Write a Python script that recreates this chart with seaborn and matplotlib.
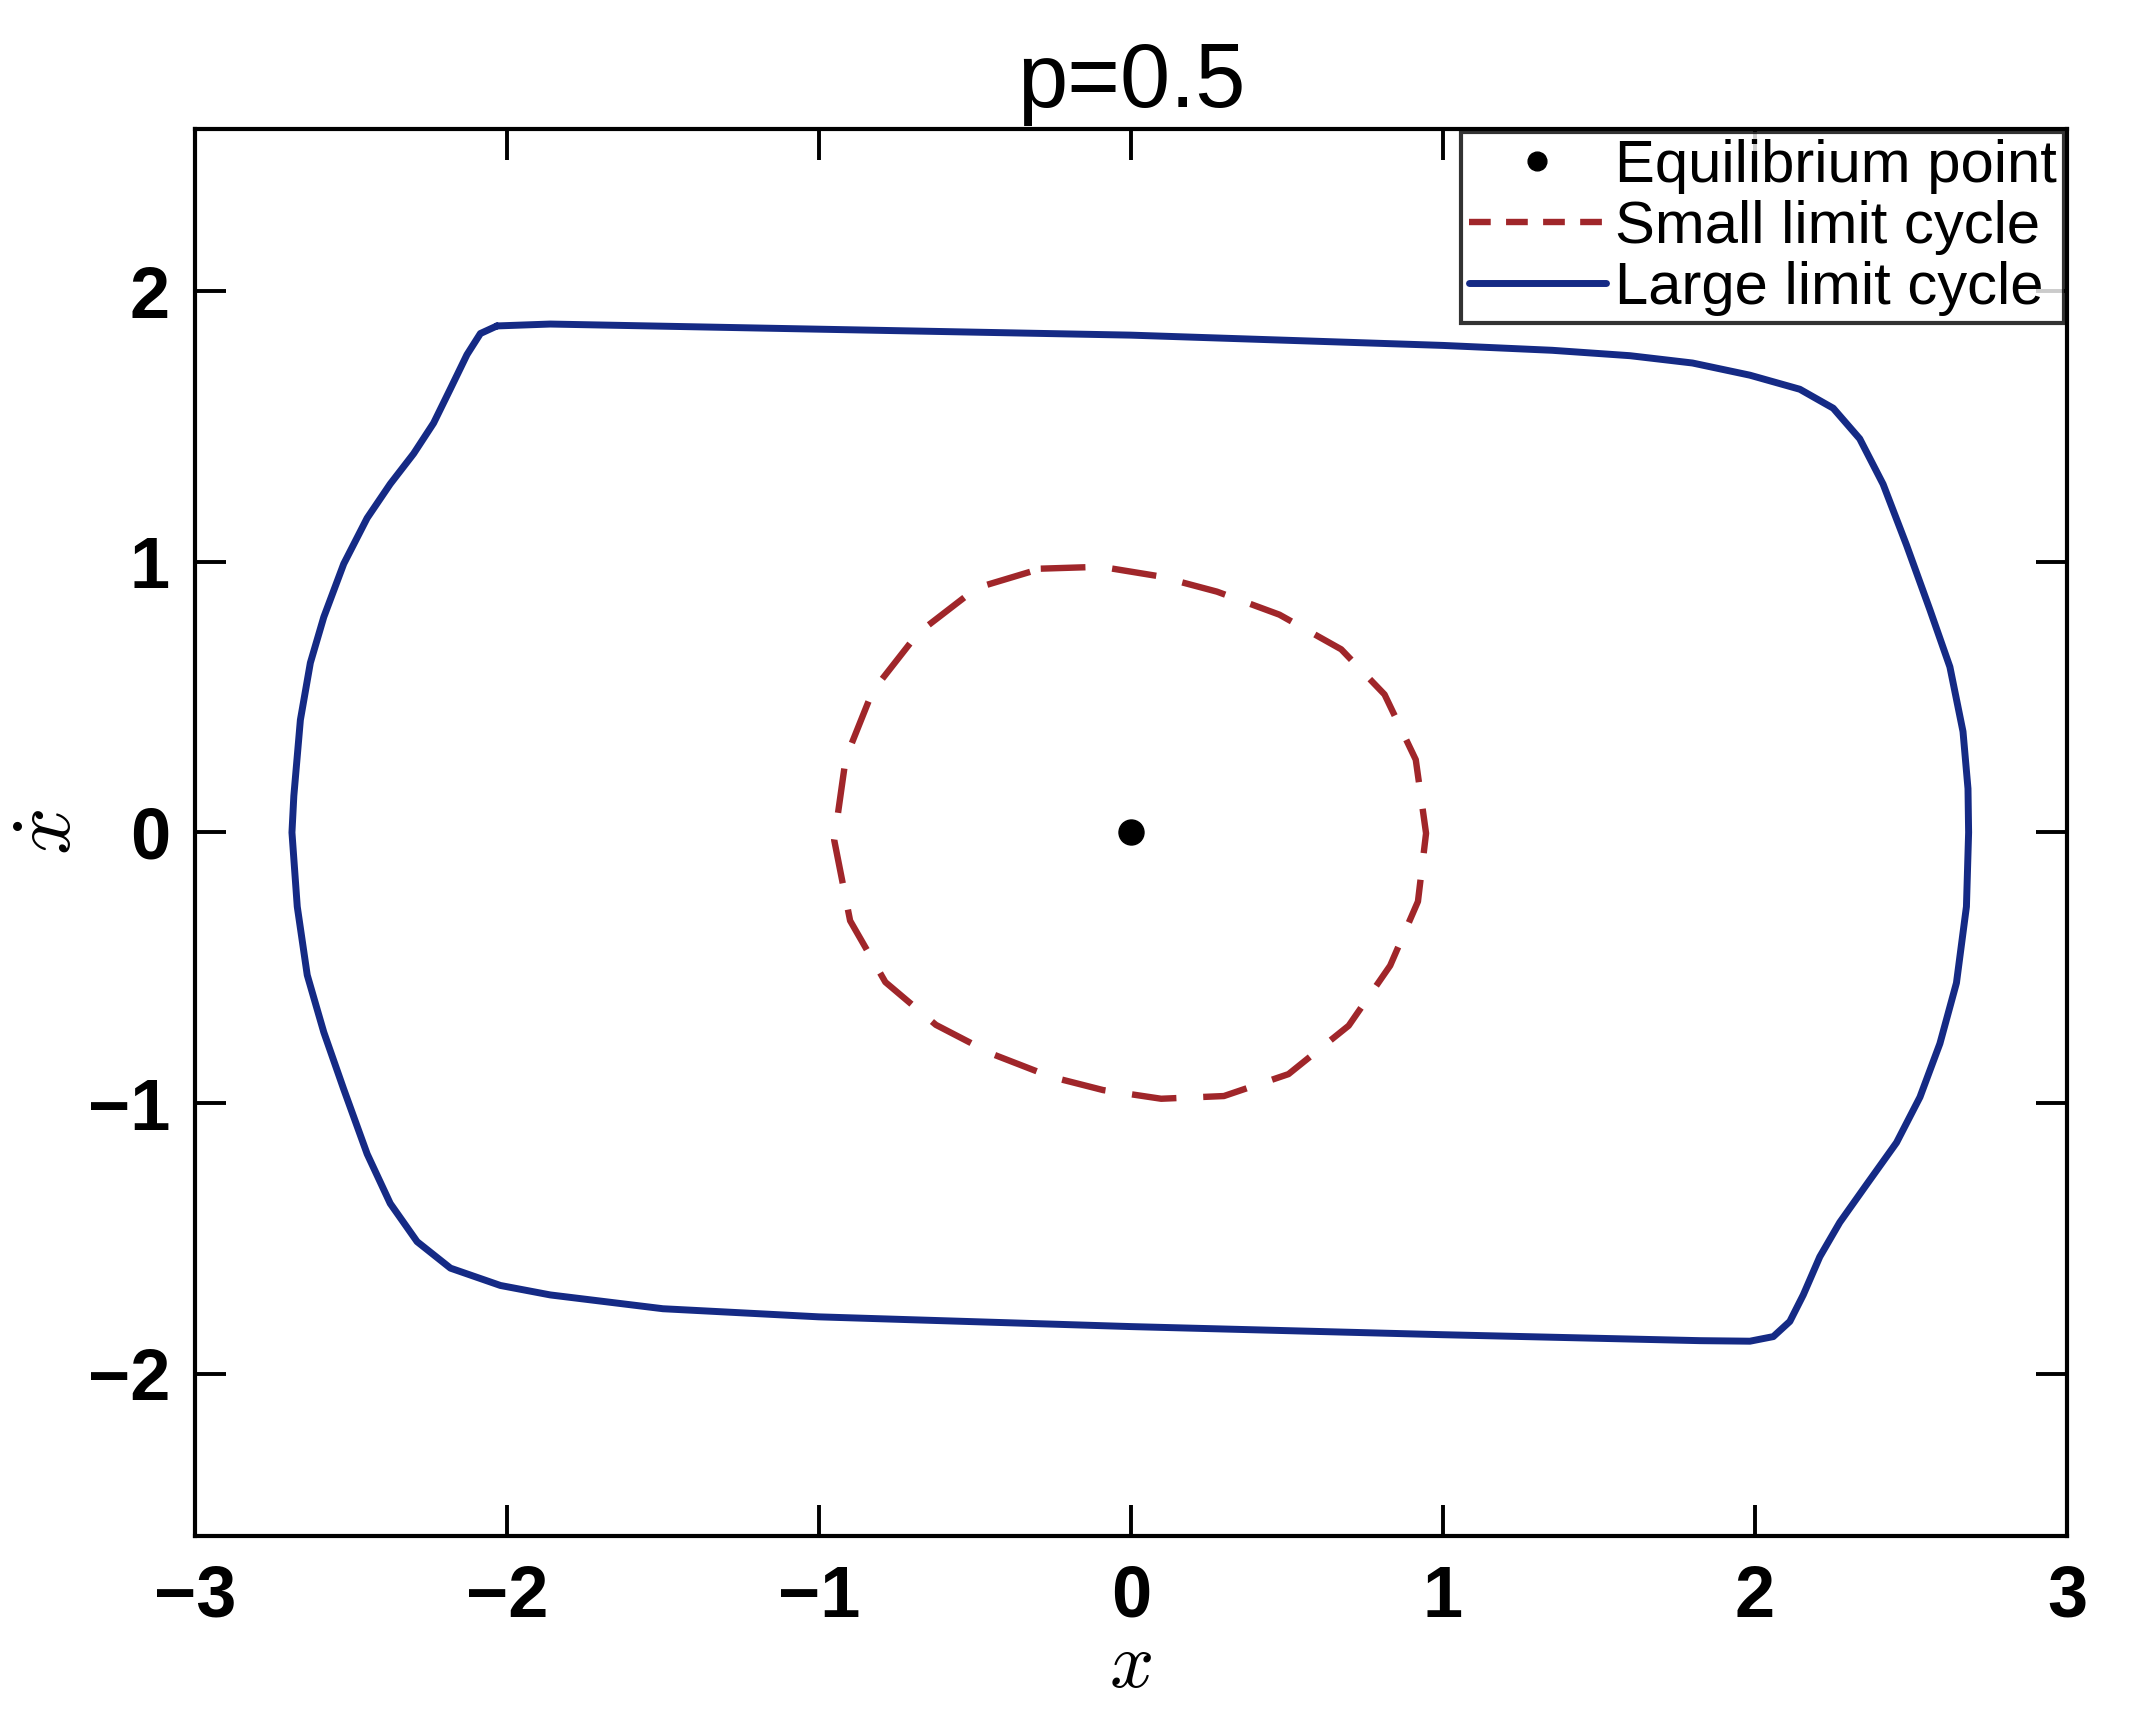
import matplotlib
matplotlib.use("Agg")
import matplotlib.pyplot as plt
import pandas as pd
import seaborn as sns

# equilibrium point
eq_x = [0.0]
eq_y = [0.0]

# small (unstable) limit cycle, traced clockwise
small_x = [-0.289, -0.096, 0.090, 0.276, 0.476, 0.674, 0.813, 0.913, 0.946, 0.920,
           0.831, 0.698, 0.505, 0.298, 0.097, -0.089, -0.256, -0.446, -0.625, -0.787,
           -0.900, -0.951, -0.914, -0.828, -0.682, -0.494, -0.289]
small_y = [0.975, 0.982, 0.947, 0.890, 0.805, 0.677, 0.510, 0.269, -0.003, -0.255,
           -0.492, -0.714, -0.893, -0.974, -0.984, -0.952, -0.903, -0.818, -0.711, -0.553,
           -0.326, -0.028, 0.274, 0.522, 0.737, 0.904, 0.975]

# large (stable) limit cycle, traced clockwise from the top-left corner
large_x = [-2.032, -1.861, -1.0, 0.0, 1.0, 1.35, 1.6, 1.8, 1.984, 2.144, 2.251, 2.336,
           2.411, 2.486, 2.561, 2.625, 2.667, 2.683, 2.685, 2.678, 2.646, 2.593,
           2.529, 2.454, 2.358, 2.272, 2.208, 2.155, 2.112, 2.059, 1.984, 1.824,
           1.0, 0.0, -1.0, -1.5, -1.861, -2.021, -2.181, -2.288, -2.374, -2.448,
           -2.523, -2.587, -2.640, -2.672, -2.689, -2.683, -2.662, -2.630, -2.587, -2.523,
           -2.448, -2.374, -2.299, -2.235, -2.181, -2.128, -2.085, -2.032]
large_y = [1.872, 1.879, 1.860, 1.838, 1.800, 1.782, 1.762, 1.735, 1.690, 1.638, 1.568, 1.455,
           1.287, 1.062, 0.823, 0.612, 0.373, 0.162, 0.0, -0.274, -0.556, -0.780,
           -0.978, -1.146, -1.301, -1.441, -1.568, -1.709, -1.807, -1.863, -1.880, -1.878,
           -1.856, -1.826, -1.790, -1.760, -1.709, -1.674, -1.610, -1.512, -1.371, -1.188,
           -0.949, -0.738, -0.527, -0.274, 0.0, 0.135, 0.416, 0.627, 0.796, 0.993,
           1.162, 1.288, 1.400, 1.513, 1.640, 1.766, 1.844, 1.872]

x_ticks = [-3, -2, -1, 0, 1, 2, 3]
y_ticks = [-2, -1, 0, 1, 2]

sns.set_theme(style="white")
plt.rcParams["font.family"] = ["Liberation Sans", "DejaVu Sans"]
plt.rcParams["mathtext.fontset"] = "cm"
plt.rcParams["text.color"] = "black"
plt.rcParams["axes.labelcolor"] = "black"
plt.rcParams["lines.solid_joinstyle"] = "round"
plt.rcParams["lines.dash_joinstyle"] = "round"

fig = plt.figure(figsize=(21.35, 17.17), dpi=100)
ax = fig.add_axes([0.0913, 0.1054, 0.8768, 0.8195])

small_df = pd.DataFrame({"x": small_x, "y": small_y})
large_df = pd.DataFrame({"x": large_x, "y": large_y})

sns.lineplot(data=small_df, x="x", y="y", sort=False, estimator=None, ax=ax,
             color="#a0262a", lw=4.6, label="Small limit cycle")
ax.lines[-1].set_dashes((7, 4.2))
sns.lineplot(data=large_df, x="x", y="y", sort=False, estimator=None, ax=ax,
             color="#152a85", lw=5.0, label="Large limit cycle")
ax.plot(eq_x, eq_y, "o", color="black", ms=18, label="Equilibrium point")

ax.set_xlim(-3, 3)
ax.set_ylim(-2.6, 2.6)
ax.set_xticks(x_ticks)
ax.set_yticks(y_ticks)
ax.set_xticklabels([str(t).replace("-", "\u2212") for t in x_ticks])
ax.set_yticklabels([str(t).replace("-", "\u2212") for t in y_ticks])
ax.tick_params(direction="in", length=22, width=2.8, top=True, right=True,
               left=True, bottom=True, labelsize=52, colors="black")
ax.tick_params(axis="x", pad=20)
ax.tick_params(axis="y", pad=18)
for lab in ax.get_xticklabels() + ax.get_yticklabels():
    lab.set_fontweight("bold")
for sp in ax.spines.values():
    sp.set_visible(True)
    sp.set_color("black")
    sp.set_linewidth(3.0)

ax.set_xlabel(r"$x$", fontsize=56, labelpad=-1)
ax.set_ylabel(r"$\dot{x}$", fontsize=60, labelpad=0)
ax.set_title("p=0.5", fontsize=65, pad=16)

handles, labels = ax.get_legend_handles_labels()
order = [labels.index("Equilibrium point"), labels.index("Small limit cycle"),
         labels.index("Large limit cycle")]
leg = ax.legend([handles[i] for i in order], [labels[i] for i in order],
                loc="upper right", fontsize=43, frameon=True, fancybox=False,
                borderaxespad=0.05, handlelength=2.3, handletextpad=0.15,
                labelspacing=0.1, borderpad=0.12, markerscale=0.75)
leg.get_frame().set_edgecolor("black")
leg.get_frame().set_linewidth(3.0)
for h in leg.get_lines():
    if h.get_label() == "Small limit cycle":
        h.set_dashes((3.4, 2.4))

fig.savefig("out.png", dpi=100)
